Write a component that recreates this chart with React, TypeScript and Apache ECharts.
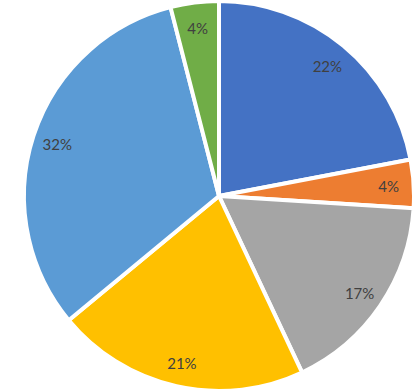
import React, { useEffect, useRef } from "react";
import * as echarts from "echarts";

const categories = ["A", "B", "C", "D", "E", "F"];
const values = [22, 4, 17, 21, 32, 4];
const colors = ["#4472C4", "#ED7D31", "#A5A5A5", "#FFC000", "#5B9BD5", "#70AD47"];

export default function App() {
  const ref = useRef<HTMLDivElement>(null);
  useEffect(() => {
    if (!ref.current) return;
    const chart = echarts.init(ref.current, null, { renderer: "svg" });
    const R = 195;
    const data = categories.map((c, i) => ({ name: c, value: values[i] }));
    chart.setOption({
      animation: false,
      color: colors,
      series: [
        {
          type: "pie",
          center: [219, 196],
          radius: [0, R],
          startAngle: 90,
          clockwise: true,
          silent: true,
          label: { show: false },
          labelLine: { show: false },
          itemStyle: { borderColor: "#ffffff", borderWidth: 4 },
          data,
        },
        {
          type: "pie",
          center: [219, 197],
          radius: [140, 194],
          startAngle: 90,
          clockwise: true,
          silent: true,
          itemStyle: { color: "rgba(0,0,0,0)", borderWidth: 0 },
          label: {
            show: true,
            position: "inside",
            formatter: (p: any) => p.value + "%",
            color: "#404040",
            fontSize: 15,
            fontFamily: "Lato, 'Open Sans', sans-serif",
          },
          labelLine: { show: false },
          data,
        },
      ],
    });
    return () => chart.dispose();
  }, []);
  return (
    <div
      ref={ref}
      style={{ position: "fixed", left: 0, top: 0, width: 416, height: 391, background: "#fff" }}
    />
  );
}
